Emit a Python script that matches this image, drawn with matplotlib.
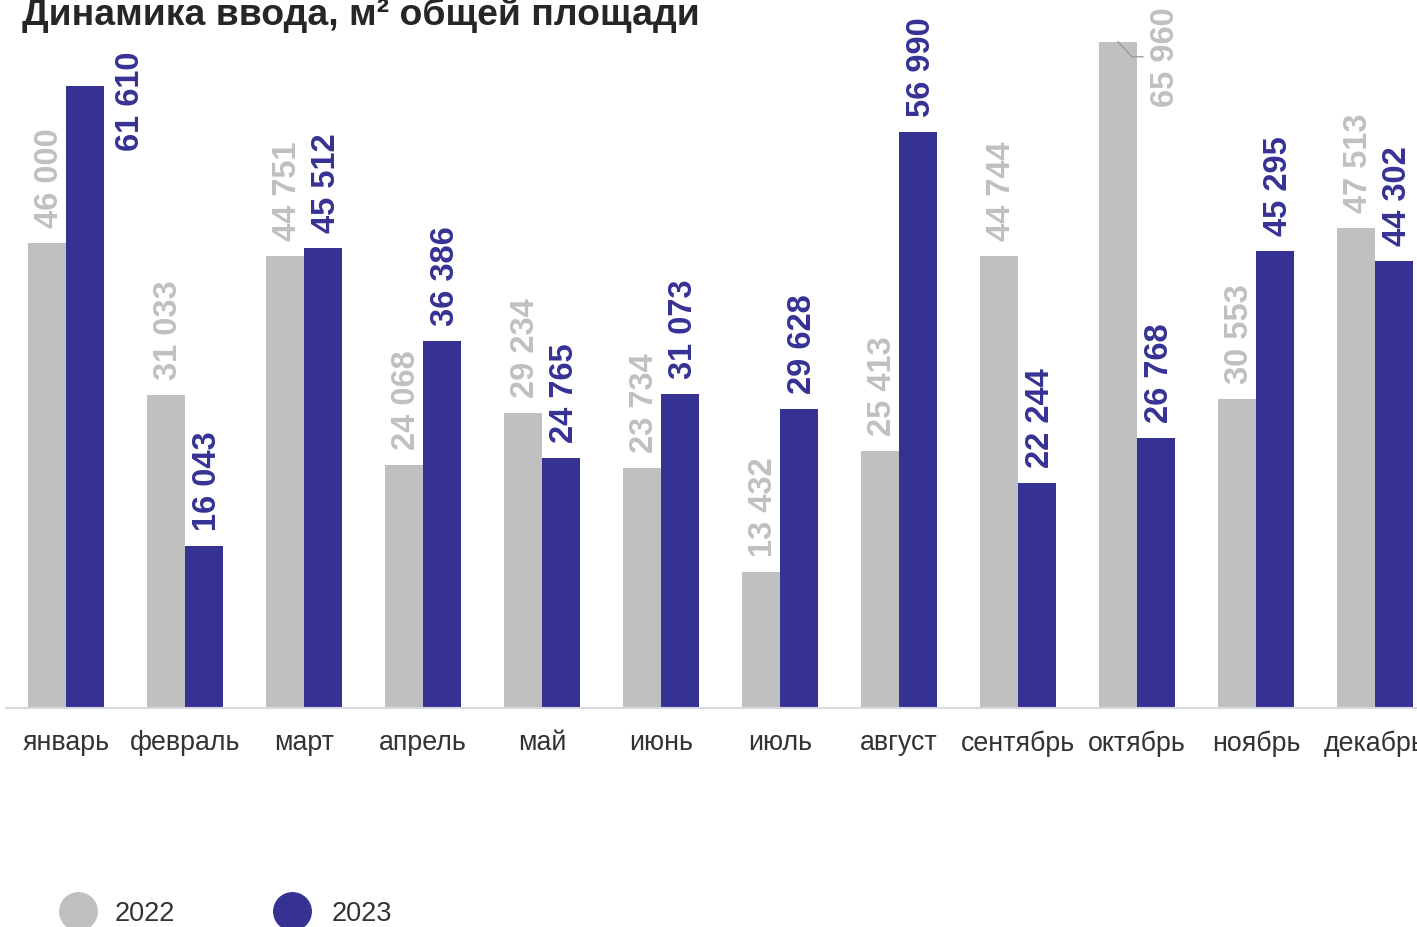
import numpy as np
import matplotlib
matplotlib.use("Agg")
import matplotlib.pyplot as plt
from matplotlib.lines import Line2D
from matplotlib.transforms import IdentityTransform

plt.rcParams['font.family'] = ['Liberation Sans', 'DejaVu Sans']

months = ["январь", "февраль", "март", "апрель", "май", "июнь",
          "июль", "август", "сентябрь", "октябрь", "ноябрь", "декабрь"]
v2022 = [46000, 31033, 44751, 24068, 29234, 23734, 13432, 25413, 44744, 65960, 30553, 47513]
v2023 = [61610, 16043, 45512, 36386, 24765, 31073, 29628, 56990, 22244, 26768, 45295, 44302]
years = ["2022", "2023"]

GRAY = "#c0c0c0"
BLUE = "#353294"
TXT = "#333333"

def fmt(v):
    return f"{v:,}".replace(",", " ")

fig = plt.figure(figsize=(14.17, 9.27), dpi=100)
ax = fig.add_axes([6.5 / 1417, 219 / 927, 1428 / 1417, 707 / 927])
ax.set_xlim(-0.5, 11.5)
ax.set_ylim(0, 70000)

x = np.arange(len(months))
w = 0.32
ax.bar(x - w / 2, v2022, w, color=GRAY)
ax.bar(x + w / 2, v2023, w, color=BLUE)

for s in ["top", "right", "left"]:
    ax.spines[s].set_visible(False)
ax.spines["bottom"].set_color("#d8d8e0")
ax.spines["bottom"].set_linewidth(1.5)
ax.set_yticks([])
ax.set_xticks(x)
ax.set_xticklabels(months, fontsize=19.3, color=TXT)
ax.tick_params(axis="x", length=0, pad=16)

lbl = dict(rotation=90, fontsize=23.5, fontweight="bold", annotation_clip=False)

for i, v in enumerate(v2022):
    if i == 9:
        # label beside the bar with a leader line
        ax.annotate(fmt(v), (i - w / 2, v), xytext=(48, -15), textcoords="offset pixels",
                    ha="center", va="center", color=GRAY, **lbl)
        fig.canvas.draw()
        px, py = ax.transData.transform((i - w / 2, v))
        fig.add_artist(Line2D([px, px + 14, px + 25], [py, py - 15, py - 15],
                              transform=IdentityTransform(), color="#9a9aa8", lw=1))
    else:
        ax.annotate(fmt(v), (i - w / 2, v), xytext=(3, 15), textcoords="offset pixels",
                    ha="center", va="bottom", color=GRAY, **lbl)

for i, v in enumerate(v2023):
    if i == 0:
        ax.annotate(fmt(v), (i + w / 2, v), xytext=(45, -16), textcoords="offset pixels",
                    ha="center", va="center", color=BLUE, **lbl)
    else:
        ax.annotate(fmt(v), (i + w / 2, v), xytext=(3, 15), textcoords="offset pixels",
                    ha="center", va="bottom", color=BLUE, **lbl)

fig.text(22 / 1417, 1 - 25 / 927, "Динамика ввода, м² общей площади",
         fontsize=26.9, fontweight="bold", color="#262626", va="baseline", ha="left")

# legend
for xc, xt, col, name in [(78, 115, GRAY, years[0]), (292, 332, BLUE, years[1])]:
    fig.add_artist(Line2D([xc / 1417], [1 - 911 / 927], marker="o", markersize=27,
                          color=col, linestyle="none", transform=fig.transFigure))
    fig.text(xt / 1417, 1 - 921 / 927, name, fontsize=19.5, color=TXT,
             va="baseline", ha="left")

fig.savefig("out.png", dpi=100)
